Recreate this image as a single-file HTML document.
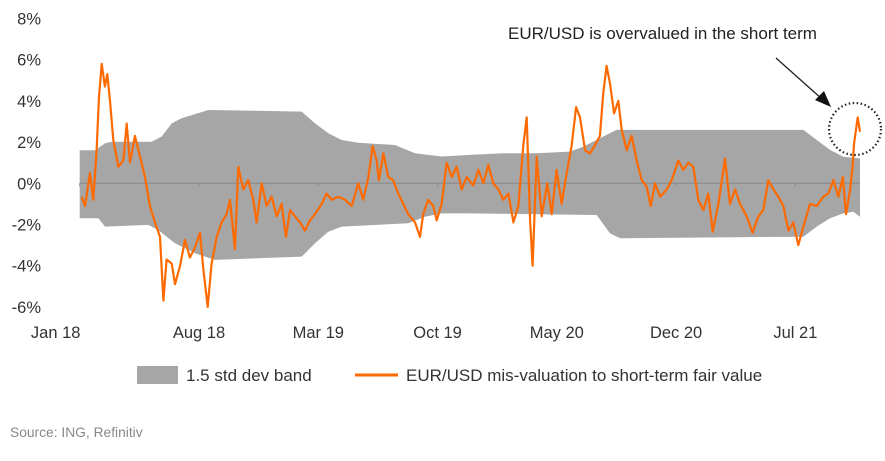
<!DOCTYPE html>
<html><head><meta charset="utf-8"><style>
body{margin:0;background:#fff;}
svg text{font-family:"Liberation Sans",sans-serif;}
</style></head><body>
<svg id="chart" width="885" height="456" viewBox="0 0 885 456" xmlns="http://www.w3.org/2000/svg">
<g id="band"></g>
<g id="axes"></g>
<g id="series"></g>
<g>
<rect x="137" y="366" width="41" height="18" fill="#a6a6a6"/>
<text x="186" y="381" font-size="17" fill="#333">1.5 std dev band</text>
<line x1="355" y1="375" x2="398" y2="375" stroke="#ff6a00" stroke-width="3"/>
<text x="406" y="381" font-size="17" fill="#333">EUR/USD mis-valuation to short-term fair value</text>
</g>
<text x="10" y="437" font-size="13.8" fill="#888">Source: ING, Refinitiv</text>
<text x="508" y="39" font-size="17" fill="#222">EUR/USD is overvalued in the short term</text>
<line x1="776" y1="58" x2="822" y2="99" stroke="#222" stroke-width="1.3"/>
<polygon points="831,107 815,100 824,91" fill="#111"/>
<circle cx="855" cy="129" r="26" fill="none" stroke="#222" stroke-width="2.2" stroke-dasharray="1.5,2.5"/>
</svg>
<script>
const yTicks=[8,6,4,2,0,-2,-4,-6];
const xLabels=["Jan 18","Aug 18","Mar 19","Oct 19","May 20","Dec 20","Jul 21"];
const xLabelMonths=[0,7,14,21,28,35,42];
const bandUpperMonths=[0,0.9,1.49,1.88,4.22,4.81,5.4,5.98,7.55,13.03,13.81,14.59,15.37,16.35,18.5,19.68,21.24,22.9,24.86,26.82,28.77,29.56,30.73,31.51,36.6,42.47,43.25,44.03,44.81,45.79];
const bandUpper=[1.6,1.6,1.94,2.02,2.02,2.27,2.91,3.16,3.56,3.48,2.91,2.43,2.1,1.97,1.86,1.46,1.3,1.38,1.46,1.46,1.54,1.78,2.27,2.59,2.59,2.59,2.1,1.62,1.29,1.21];
const bandLowerMonths=[0,1.09,1.49,4.03,4.61,5.59,6.77,7.94,13.03,13.81,14.59,15.37,19.28,20.26,21.24,22.9,30.34,31.12,31.71,42.47,43.25,44.03,44.81,45.4,45.79];
const bandLower=[-1.7,-1.7,-2.1,-2.02,-2.27,-2.91,-3.4,-3.72,-3.56,-2.91,-2.35,-2.1,-1.94,-1.62,-1.46,-1.46,-1.54,-2.43,-2.67,-2.59,-2.1,-1.7,-1.46,-1.38,-1.62];
const seriesMonths=[0.11,0.31,0.6,0.8,0.99,1.13,1.29,1.48,1.62,1.78,1.97,2.27,2.56,2.76,2.95,3.24,3.54,3.83,4.12,4.42,4.71,4.91,5.1,5.4,5.59,5.89,6.18,6.47,6.77,7.06,7.26,7.51,7.74,8.04,8.33,8.62,8.82,9.11,9.31,9.6,9.89,10.19,10.38,10.68,10.97,11.26,11.56,11.85,12.1,12.34,12.63,12.93,13.22,13.51,13.81,14.2,14.49,14.79,15.18,15.57,15.96,16.35,16.64,16.94,17.19,17.43,17.56,17.82,18.11,18.4,18.7,18.99,19.28,19.68,19.97,20.16,20.45,20.75,20.95,21.24,21.54,21.83,22.12,22.42,22.71,23.1,23.4,23.69,23.98,24.27,24.57,24.86,25.16,25.45,25.74,26.04,26.23,26.43,26.58,26.82,27.11,27.44,27.7,27.99,28.28,28.58,28.87,29.13,29.36,29.66,29.95,30.24,30.53,30.73,30.92,31.12,31.36,31.61,31.81,32.1,32.39,32.69,32.98,33.27,33.51,33.76,34.06,34.45,34.74,35.13,35.42,35.72,36.01,36.3,36.6,36.89,37.15,37.48,37.87,38.16,38.46,38.75,39.14,39.49,39.83,40.12,40.41,40.71,41,41.29,41.59,41.88,42.17,42.47,42.86,43.25,43.64,43.93,44.23,44.52,44.78,44.97,45.21,45.36,45.44,45.56,45.66,45.79];
const seriesValues=[-0.65,-1.1,0.5,-0.8,1.6,4.2,5.8,4.7,5.3,4.0,2.1,0.8,1.1,2.9,1.0,2.3,1.3,0.3,-1.1,-1.9,-2.6,-5.7,-3.7,-3.9,-4.9,-4.0,-2.75,-3.6,-3.1,-2.4,-4.2,-6.0,-3.9,-2.6,-1.9,-1.5,-0.8,-3.2,0.8,-0.3,0.15,-0.8,-1.9,0,-1.1,-0.65,-1.6,-1.0,-2.6,-1.3,-1.6,-1.9,-2.3,-1.8,-1.5,-1.0,-0.5,-0.8,-0.65,-0.8,-1.1,0,-0.8,0.3,1.8,1.1,0.15,1.45,0.3,0.15,-0.5,-1.0,-1.5,-1.9,-2.6,-1.5,-0.8,-1.1,-1.8,-1.0,1.0,0.3,0.8,-0.3,0.3,-0.1,0.65,0,0.9,0,-0.3,-0.8,-0.5,-1.9,-1.1,1.9,3.2,-1.8,-4.0,1.3,-1.6,0,-1.5,0.65,-1.0,0.5,1.8,3.7,3.2,1.6,1.45,1.85,2.3,4.4,5.7,4.85,3.4,4.0,2.6,1.6,2.3,1.1,0.15,-0.15,-1.1,0,-0.65,-0.3,0.15,1.1,0.65,1.0,0.8,-0.8,-1.3,-0.5,-2.35,-1.0,1.2,-1.0,-0.3,-1.0,-1.6,-2.4,-1.6,-1.3,0.15,-0.3,-0.65,-1.1,-2.3,-1.9,-3.0,-2.1,-1.0,-1.1,-0.65,-0.5,0.15,-0.65,0.3,-1.5,-0.3,0.8,1.9,2.6,3.2,2.5];

const NS="http://www.w3.org/2000/svg";
const x=m=>79.7+m*17.04;
const y=v=>183.3-v*20.6;
const mk=(tag,attrs,parent)=>{const e=document.createElementNS(NS,tag);for(const k in attrs)e.setAttribute(k,attrs[k]);parent.appendChild(e);return e;};

const band=document.getElementById('band');
let pts=bandUpperMonths.map((m,i)=>x(m).toFixed(1)+','+y(bandUpper[i]).toFixed(1));
for(let i=bandLowerMonths.length-1;i>=0;i--)pts.push(x(bandLowerMonths[i]).toFixed(1)+','+y(bandLower[i]).toFixed(1));
const bp=mk('polygon',{points:pts.join(' '),fill:'#a6a6a6'},band);



const axes=document.getElementById('axes');
yTicks.forEach(v=>{
  const t=mk('text',{x:41,y:y(v)+6,'text-anchor':'end','font-size':16.5,fill:'#333'},axes);
  t.textContent=v+'%';
  
  
});
const zl=mk('line',{x1:x(0),y1:y(0),x2:x(45.8),y2:y(0),stroke:'#888','stroke-width':1},axes);


xLabels.forEach((lab,i)=>{
  const m=xLabelMonths[i];
  const tk=mk('line',{x1:x(m),y1:y(0),x2:x(m),y2:y(0)+3,stroke:'#888'},axes);
  
  
  const cx=i===0?x(m)-24:x(m);
  const t=mk('text',{x:cx,y:338,'text-anchor':'middle','font-size':16.5,fill:'#333'},axes);
  t.textContent=lab;
  
  
});

const ser=document.getElementById('series');
const d=seriesMonths.map((m,i)=>(i?'L':'M')+x(m).toFixed(1)+','+y(seriesValues[i]).toFixed(1)).join(' ');
const p=mk('path',{d:d,fill:'none',stroke:'#ff6a00','stroke-width':2.2,'stroke-linejoin':'round'},ser);


</script>
</body></html>
